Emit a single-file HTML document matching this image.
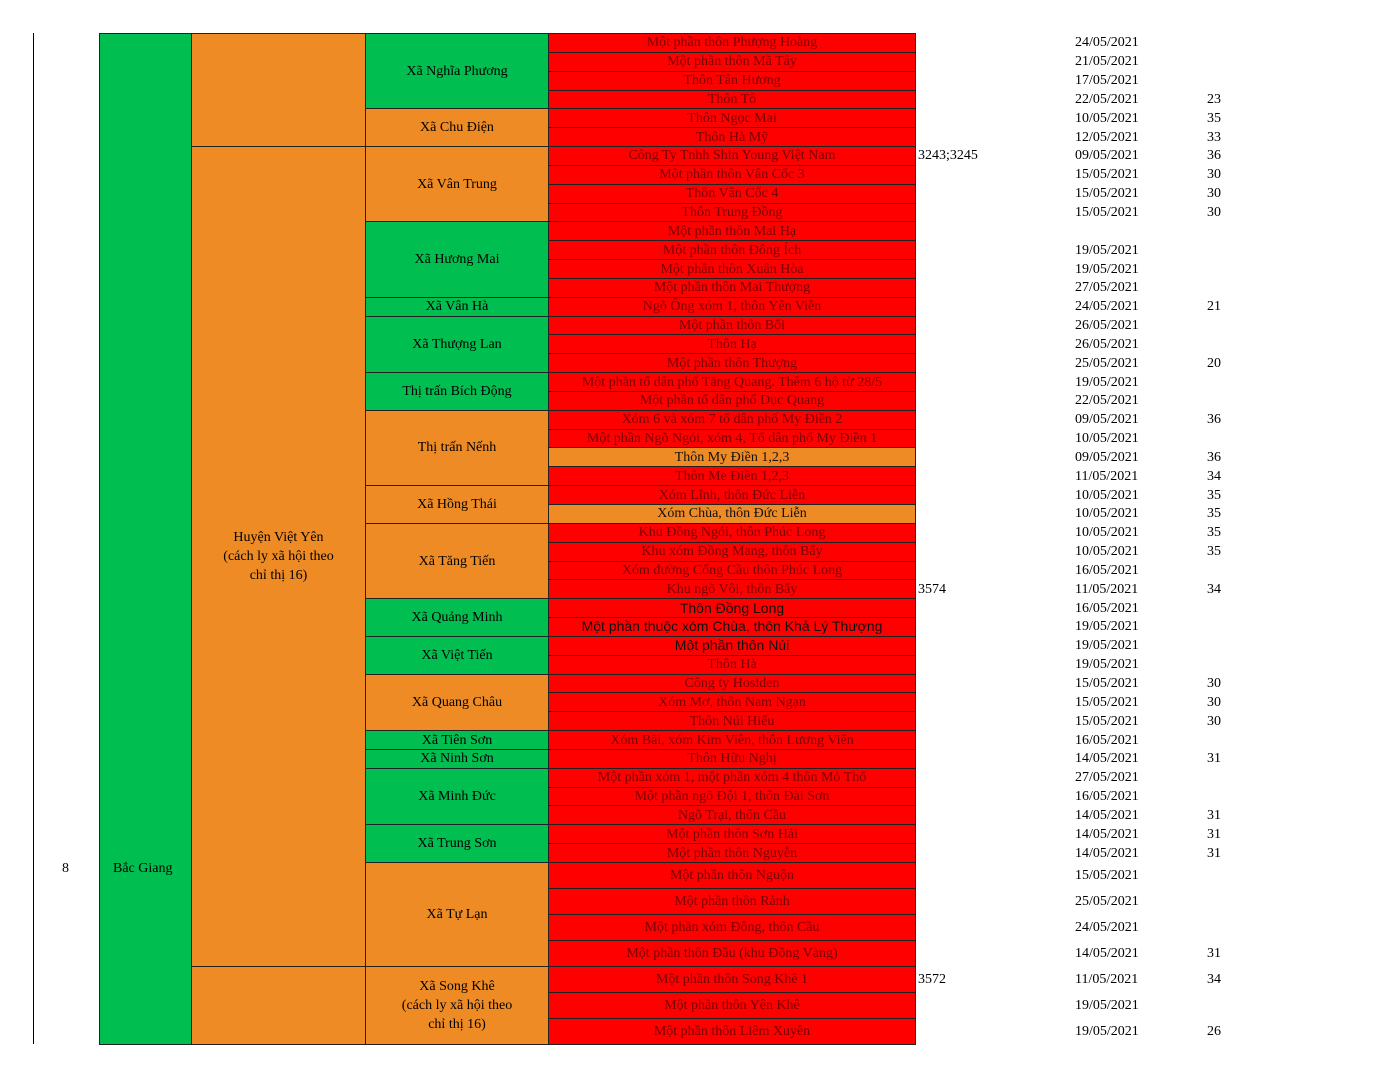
<!DOCTYPE html>
<html><head><meta charset="utf-8"><style>
body{margin:0;width:1398px;height:1080px;background:#fff;position:relative;overflow:hidden;font-family:"Liberation Serif",serif;font-size:14px}
.c{position:absolute;box-sizing:border-box;display:flex;align-items:center;justify-content:center;text-align:center;white-space:nowrap;line-height:19px}
.t{position:absolute;white-space:nowrap;line-height:18px;font-size:14px}
</style></head><body>
<div style="position:absolute;left:33px;top:33px;width:1px;height:1011px;background:#000"></div>
<div class="c" style="left:99px;top:33px;width:93px;height:1012px;background:#00bf50;border:1px solid #222"></div>
<div class="t" style="left:62px;top:860px">8</div>
<div class="t" style="left:113px;top:860px">Bắc Giang</div>
<div id="root"></div>
<script>
const places=["Một phần thôn Phượng Hoàng","Một phần thôn Mã Tây","Thôn Tân Hương","Thôn Tô","Thôn Ngọc Mai","Thôn Hà Mỹ","Công Ty Tnhh Shin Young Việt Nam","Một phần thôn Vân Cốc 3","Thôn Vân Cốc 4","Thôn Trung Đồng","Một phần thôn Mai Hạ","Một phần thôn Đông Ích","Một phần thôn Xuân Hòa","Một phần thôn Mai Thượng","Ngõ Ông xóm 1, thôn Yên Viên","Một phần thôn Bối","Thôn Hạ","Một phần thôn Thượng","Một phần tổ dân phố Tăng Quang. Thêm 6 hộ từ 28/5","Một phần tổ dân phố Dục Quang","Xóm 6 và xóm 7 tổ dân phố My Điền 2","Một phần Ngõ Ngói, xóm 4, Tổ dân phố My Điền 1","Thôn My Điền 1,2,3","Thôn Me Điền 1,2,3","Xóm Lĩnh, thôn Đức Liễn","Xóm Chùa, thôn Đức Liễn","Khu Đồng Ngói, thôn Phúc Long","Khu xóm Đồng Mang, thôn Bẩy","Xóm đường Cống Cầu thôn Phúc Long","Khu ngõ Vôi, thôn Bẩy","Thôn Đồng Long","Một phần thuộc xóm Chùa, thôn Khả Lý Thượng","Một phần thôn Núi","Thôn Hà","Công ty Hosiden","Xóm Mơ, thôn Nam Ngạn","Thôn Núi Hiếu","Xóm Bãi, xóm Kim Viên, thôn Lương Viên","Thôn Hữu Nghị","Một phần xóm 1, một phần xóm 4 thôn Mỏ Thổ","Một phần ngõ Đội 1, thôn Đài Sơn","Ngõ Trại, thôn Cầu","Một phần thôn Sơn Hải","Một phần thôn Nguyễn","Một phần thôn Nguộn","Một phần thôn Rành","Một phần xóm Đông, thôn Cầu","Một phần thôn Đầu (khu Đồng Vàng)","Một phần thôn Song Khê 1","Một phần thôn Yên Khê","Một phần thôn Liêm Xuyên"];
const dates=["24/05/2021","21/05/2021","17/05/2021","22/05/2021","10/05/2021","12/05/2021","09/05/2021","15/05/2021","15/05/2021","15/05/2021","","19/05/2021","19/05/2021","27/05/2021","24/05/2021","26/05/2021","26/05/2021","25/05/2021","19/05/2021","22/05/2021","09/05/2021","10/05/2021","09/05/2021","11/05/2021","10/05/2021","10/05/2021","10/05/2021","10/05/2021","16/05/2021","11/05/2021","16/05/2021","19/05/2021","19/05/2021","19/05/2021","15/05/2021","15/05/2021","15/05/2021","16/05/2021","14/05/2021","27/05/2021","16/05/2021","14/05/2021","14/05/2021","14/05/2021","15/05/2021","25/05/2021","24/05/2021","14/05/2021","11/05/2021","19/05/2021","19/05/2021"];
const counts=["","","","23","35","33","36","30","30","30","","","","","21","","","20","","","36","","36","34","35","35","35","35","","34","","","","","30","30","30","","31","","","31","31","31","","","","31","34","","26"];
const codes={6:"3243;3245",29:"3574",48:"3572"};
const orangeRows=[22,25];
const sansRows=[30,31,32];
const communes=[["Xã Nghĩa Phương",4,"g"],["Xã Chu Điện",2,"o"],["Xã Vân Trung",4,"o"],["Xã Hương Mai",4,"g"],["Xã Vân Hà",1,"g"],["Xã Thượng Lan",3,"g"],["Thị trấn Bích Động",2,"g"],["Thị trấn Nếnh",4,"o"],["Xã Hồng Thái",2,"o"],["Xã Tăng Tiến",4,"o"],["Xã Quảng Minh",2,"g"],["Xã Việt Tiến",2,"g"],["Xã Quang Châu",3,"o"],["Xã Tiên Sơn",1,"g"],["Xã Ninh Sơn",1,"g"],["Xã Minh Đức",3,"g"],["Xã Trung Sơn",2,"g"],["Xã Tự Lạn",4,"o"],["Xã Song Khê<br>(cách ly xã hội theo<br>chỉ thị 16)",3,"o"]];
const districts=[["",6],["Huyện Việt Yên<br>(cách ly xã hội theo<br>chỉ thị 16)",42],["",3]];
const G="#00bf50",O="#ef8b25",R="#ff0000";
const root=document.getElementById('root');
function rowY(i){return i<44?33+i*18.84:33+44*18.84+(i-44)*26;}
function mk(cls,css,html){const d=document.createElement('div');d.className=cls;d.style.cssText=css;d.innerHTML=html;root.appendChild(d);return d;}
let r=0;
districts.forEach(d=>{const y=rowY(r),h=rowY(r+d[1])-y;
const el=mk('c',`left:191px;top:${y}px;width:175px;height:${h+1}px;background:${O};border:1px solid #222;white-space:normal`,d[0]);


r+=d[1];});
r=0;
communes.forEach(c=>{const y=rowY(r),h=rowY(r+c[1])-y;
const el=mk('c',`left:365px;top:${y}px;width:184px;height:${h+1}px;background:${c[2]=='g'?G:O};border:1px solid #222;white-space:normal`,c[0]);


r+=c[1];});
places.forEach((p,i)=>{const y=rowY(i),h=rowY(i+1)-y;const org=orangeRows.includes(i);const sans=sansRows.includes(i);
const el=mk('c',`left:548px;top:${y}px;width:368px;height:${h+1}px;background:${org?O:R};color:${org||sans?'#111':'#700'};border:1px solid #222;${sans?'font-family:"Liberation Sans",sans-serif;':''}`,p);


const ty=y+(h-18)/2+1;
if(codes[i]){const t=mk('t',`left:918px;top:${ty}px`,codes[i]);

}
if(dates[i]){const t=mk('t',`left:1075px;top:${ty}px`,dates[i]);

}
if(counts[i]){const t=mk('t',`left:1207px;top:${ty}px`,counts[i]);

}
});
</script>
</body></html>
